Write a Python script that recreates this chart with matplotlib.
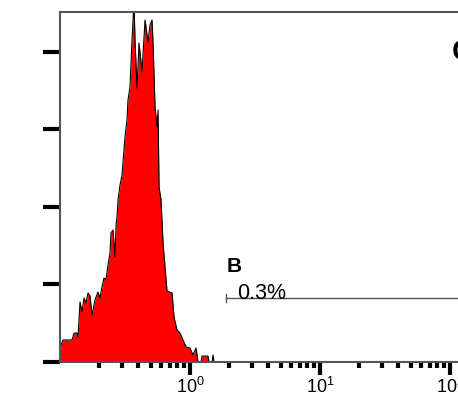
import matplotlib
matplotlib.use("Agg")
import matplotlib.pyplot as plt
from matplotlib.ticker import LogLocator, NullFormatter, FixedLocator

# fluorescence intensity (log scale) and event counts
intensity = [0.100, 0.1018, 0.1055, 0.1237, 0.1282, 0.1352, 0.1376, 0.1426, 0.1477,
             0.1531, 0.1585, 0.1642, 0.1701, 0.1763, 0.1858, 0.1959, 0.2031, 0.2104,
             0.2180, 0.2259, 0.2341, 0.2425, 0.2469, 0.2558, 0.2651, 0.2698, 0.2746,
             0.2795, 0.2896, 0.3000, 0.3162, 0.3276, 0.3335, 0.3455, 0.3580, 0.3709,
             0.3775, 0.3912, 0.4053, 0.4275, 0.4508, 0.4754, 0.4926, 0.5104, 0.5195,
             0.5383, 0.5577, 0.5677, 0.5779, 0.5987, 0.6203, 0.6654, 0.7275, 0.7536,
             0.7943, 0.8376, 0.8834, 0.9316, 1.000, 1.0545, 1.112, 1.152, 1.215,
             1.237, 1.375, 1.400, 1.476, 1.503, 1.530]
counts = [0.0, 2.19, 2.84, 2.84, 3.74, 3.74, 3.23, 7.74, 6.45,
          8.26, 7.61, 8.90, 8.52, 6.06, 8.00, 9.03, 8.26, 9.68,
          10.84, 10.58, 12.52, 14.06, 16.65, 17.03, 13.55, 17.68, 18.71,
          20.90, 22.84, 24.13, 29.03, 31.23, 33.81, 35.48, 41.55, 46.5,
          41.55, 35.35, 41.16, 37.42, 44.13, 41.29, 43.48, 44.13, 41.16,
          32.90, 30.32, 32.52, 22.58, 20.90, 15.35, 9.16, 8.90, 5.81,
          4.13, 3.74, 2.84, 1.94, 1.81, 0.90, 1.81, 0.0, 0.0,
          0.77, 0.77, 0.0, 0.0, 0.90, 0.0]

x_ticks = [1, 10, 100]
y_ticks = [0, 10, 20, 30, 40]
gate_start, gate_end, gate_level = 1.89, 1000.0, 8.26
gate_name = "B"
gate_pct = "0.3%"
panel_letter = "C"

fig = plt.figure(figsize=(4.58, 3.99), dpi=100)
ax = fig.add_axes([60 / 458, 37 / 399, 416 / 458, 350 / 399])

ax.fill_between(intensity, counts, 0, color="#ff0000", linewidth=0)
ax.plot(intensity, counts, color="black", lw=0.8)

# gate marker
ax.plot([gate_start, gate_end], [gate_level, gate_level], color="#555555", lw=1.0)
ax.plot([gate_start, gate_start], [gate_level - 0.5, gate_level + 0.5], color="#555555", lw=1.0)
ax.text(gate_start * 1.02, 11.6, gate_name, fontsize=15, fontweight="bold",
        family="Liberation Sans", va="baseline", ha="left")
ax.text(gate_start * 1.22, gate_level - 0.1, gate_pct, fontsize=15.5,
        family="Liberation Sans", va="baseline", ha="left")

ax.set_xscale("log")
ax.set_xlim(0.1, 10 ** 2.2)
ax.set_ylim(0, 45.16)

ax.yaxis.set_major_locator(FixedLocator(y_ticks))
ax.tick_params(axis="y", which="major", direction="out", length=12, width=3,
               color="black", labelleft=False)
ax.xaxis.set_major_locator(FixedLocator(x_ticks))
ax.set_xticklabels([r"$\mathregular{10^{%d}}$" % e for e in range(len(x_ticks))])
ax.xaxis.set_minor_locator(LogLocator(base=10, subs=range(2, 10)))
ax.xaxis.set_minor_formatter(NullFormatter())
ax.tick_params(axis="x", which="major", direction="out", length=9, width=3,
               color="black", labelsize=13, pad=2)
ax.tick_params(axis="x", which="minor", direction="out", length=4, width=3, color="black")
for lbl in ax.get_xticklabels():
    lbl.set_family("Liberation Sans")

for side in ["left", "top", "bottom", "right"]:
    ax.spines[side].set_color("#555555")
    ax.spines[side].set_linewidth(1.5)

fig.text(452 / 458, 1 - 52 / 399, panel_letter, fontsize=21, fontweight="bold",
         family="Liberation Sans", ha="left", va="center")

fig.savefig("out.png", dpi=100)
